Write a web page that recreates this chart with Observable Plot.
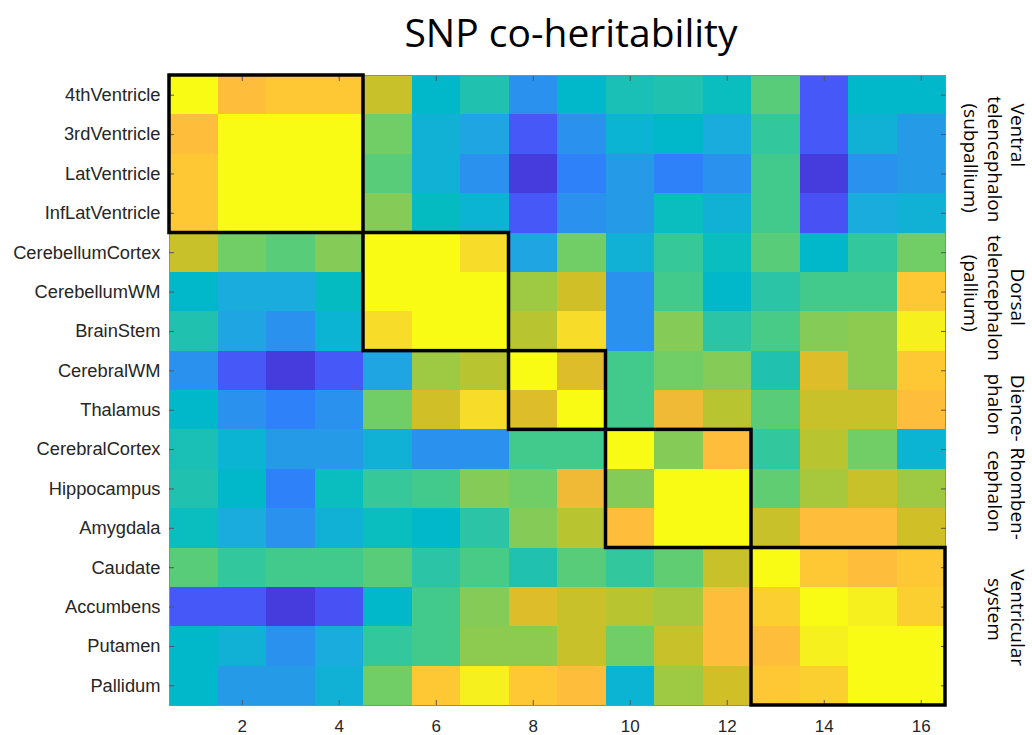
<!DOCTYPE html>
<html>
<head>
<meta charset="utf-8">
<script src="https://cdn.jsdelivr.net/npm/d3@7"></script>
<script src="https://cdn.jsdelivr.net/npm/@observablehq/plot@0.6"></script>
<style>
  body { margin: 0; background: #fff; width: 1032px; height: 735px; overflow: hidden; }
  #title { box-sizing: border-box; width: 1032px; height: 60px; padding-left: 110px; padding-top: 2px;
           text-align: center; font-family: "Open Sans", sans-serif; font-size: 39px; line-height: 60px; color: #000; }
</style>
</head>
<body>
<div id="title">SNP co-heritability</div>
<div id="chart"></div>
<script>
// Row / column names (same order on both axes)
const regions = ["4thVentricle","3rdVentricle","LatVentricle","InfLatVentricle","CerebellumCortex",
  "CerebellumWM","BrainStem","CerebralWM","Thalamus","CerebralCortex","Hippocampus","Amygdala",
  "Caudate","Accumbens","Putamen","Pallidum"];
const xTicks = [2, 4, 6, 8, 10, 12, 14, 16];

const row_4thVentricle     = [1.00,0.84,0.87,0.87,0.75,0.46,0.52,0.32,0.46,0.51,0.52,0.49,0.62,0.16,0.46,0.46];
const row_3rdVentricle     = [0.84,1.00,1.00,1.00,0.65,0.43,0.38,0.16,0.32,0.44,0.46,0.41,0.56,0.16,0.43,0.35];
const row_LatVentricle     = [0.87,1.00,1.00,1.00,0.62,0.43,0.32,0.08,0.27,0.35,0.27,0.32,0.59,0.08,0.32,0.35];
const row_InfLatVentricle  = [0.87,1.00,1.00,1.00,0.67,0.48,0.44,0.16,0.32,0.35,0.49,0.43,0.59,0.14,0.41,0.43];
const row_CerebellumCortex = [0.75,0.65,0.62,0.67,1.00,1.00,0.92,0.38,0.65,0.43,0.57,0.49,0.62,0.46,0.56,0.65];
const row_CerebellumWM     = [0.46,0.41,0.41,0.48,1.00,1.00,1.00,0.70,0.76,0.32,0.59,0.46,0.54,0.59,0.59,0.87];
const row_BrainStem        = [0.52,0.38,0.32,0.44,0.92,1.00,1.00,0.73,0.92,0.32,0.67,0.54,0.60,0.67,0.68,0.97];
const row_CerebralWM       = [0.32,0.16,0.08,0.16,0.38,0.70,0.73,1.00,0.78,0.59,0.65,0.67,0.52,0.78,0.68,0.87];
const row_Thalamus         = [0.46,0.32,0.27,0.32,0.65,0.76,0.92,0.78,1.00,0.59,0.81,0.73,0.62,0.75,0.75,0.84];
const row_CerebralCortex   = [0.51,0.44,0.35,0.35,0.43,0.32,0.32,0.59,0.59,1.00,0.67,0.84,0.56,0.73,0.65,0.44];
const row_Hippocampus      = [0.52,0.46,0.27,0.49,0.57,0.59,0.67,0.65,0.81,0.67,1.00,1.00,0.63,0.71,0.75,0.70];
const row_Amygdala         = [0.49,0.41,0.32,0.43,0.49,0.46,0.54,0.67,0.73,0.84,1.00,1.00,0.75,0.84,0.84,0.76];
const row_Caudate          = [0.62,0.56,0.59,0.59,0.62,0.54,0.60,0.52,0.62,0.56,0.63,0.75,1.00,0.87,0.84,0.87];
const row_Accumbens        = [0.16,0.16,0.08,0.14,0.46,0.59,0.67,0.78,0.75,0.73,0.71,0.84,0.89,1.00,0.97,0.89];
const row_Putamen          = [0.46,0.43,0.32,0.41,0.56,0.59,0.68,0.68,0.75,0.65,0.75,0.84,0.84,0.97,1.00,1.00];
const row_Pallidum         = [0.46,0.35,0.35,0.43,0.65,0.87,0.97,0.87,0.84,0.44,0.70,0.76,0.87,0.89,1.00,1.00];

// Diagonal blocks (first and last region index, 1-based)
const blockStart = [1, 5, 8, 10, 13];
const blockEnd   = [4, 7, 9, 12, 16];

// Right-hand group labels: text, line number, row position
const groupText = ["Ventral","telencephalon","(subpallium)",
                   "Dorsal","telencephalon","(pallium)",
                   "Dience-","phalon",
                   "Rhomben-","cephalon",
                   "Ventricular","system"];
const groupLine = [0,1,2, 0,1,2, 0,1, 0,1, 0,1];
const groupRow  = [2.02,2.63,2.6, 6.13,6.15,6.03, 8.95,8.85, 11.12,11.06, 14.27,14.06];

// MATLAB parula colormap (64 entries)
const parula = [
[0.2422,0.1504,0.6603],[0.2504,0.1650,0.7076],[0.2578,0.1818,0.7511],[0.2647,0.1978,0.7952],
[0.2706,0.2147,0.8364],[0.2751,0.2342,0.8710],[0.2783,0.2559,0.8991],[0.2803,0.2782,0.9221],
[0.2813,0.3006,0.9414],[0.2810,0.3228,0.9579],[0.2795,0.3447,0.9717],[0.2760,0.3667,0.9829],
[0.2699,0.3892,0.9906],[0.2602,0.4123,0.9952],[0.2440,0.4358,0.9988],[0.2206,0.4603,0.9973],
[0.1963,0.4847,0.9892],[0.1834,0.5074,0.9798],[0.1786,0.5289,0.9682],[0.1764,0.5499,0.9520],
[0.1687,0.5703,0.9359],[0.1540,0.5902,0.9218],[0.1460,0.6091,0.9079],[0.1380,0.6276,0.8973],
[0.1248,0.6459,0.8883],[0.1113,0.6635,0.8763],[0.0952,0.6798,0.8598],[0.0689,0.6948,0.8394],
[0.0297,0.7082,0.8163],[0.0036,0.7203,0.7917],[0.0067,0.7312,0.7660],[0.0433,0.7411,0.7394],
[0.0964,0.7500,0.7120],[0.1408,0.7584,0.6842],[0.1717,0.7670,0.6554],[0.1938,0.7758,0.6251],
[0.2161,0.7843,0.5923],[0.2470,0.7918,0.5567],[0.2906,0.7973,0.5188],[0.3406,0.8008,0.4789],
[0.3909,0.8029,0.4354],[0.4456,0.8024,0.3909],[0.5044,0.7993,0.3480],[0.5616,0.7942,0.3045],
[0.6174,0.7876,0.2612],[0.6720,0.7793,0.2227],[0.7242,0.7698,0.1910],[0.7738,0.7598,0.1646],
[0.8203,0.7498,0.1535],[0.8634,0.7406,0.1596],[0.9035,0.7330,0.1774],[0.9393,0.7288,0.2100],
[0.9728,0.7298,0.2394],[0.9956,0.7434,0.2371],[0.9970,0.7659,0.2199],[0.9952,0.7893,0.2028],
[0.9892,0.8136,0.1885],[0.9786,0.8386,0.1766],[0.9676,0.8639,0.1643],[0.9610,0.8890,0.1537],
[0.9597,0.9135,0.1423],[0.9628,0.9373,0.1265],[0.9691,0.9606,0.1064],[0.9769,0.9839,0.0805]
].map(([r,g,b]) => d3.rgb(r*255, g*255, b*255).formatHex());
const parulaInterp = d3.piecewise(d3.interpolateRgb, parula);

const matrix = [row_4thVentricle,row_3rdVentricle,row_LatVentricle,row_InfLatVentricle,
  row_CerebellumCortex,row_CerebellumWM,row_BrainStem,row_CerebralWM,row_Thalamus,
  row_CerebralCortex,row_Hippocampus,row_Amygdala,row_Caudate,row_Accumbens,row_Putamen,row_Pallidum];
const cells = matrix.flatMap((vals, i) => vals.map((v, j) => ({row: i + 1, col: j + 1, value: v})));
const blocks = blockStart.map((s, i) => ({start: s, end: blockEnd[i]}));
const groupLines = groupText.map((t, i) => ({label: t, line: groupLine[i], row: groupRow[i]}));
const rowTicks = regions.map((_, i) => i + 1);
const lineDx = [72, 49, 25];

const chart = Plot.plot({
  width: 1032,
  height: 675,
  marginTop: 15,
  marginBottom: 30,
  marginLeft: 169,
  marginRight: 87,
  style: {fontFamily: "'Liberation Sans', Arial, sans-serif", fontSize: "17px", color: "#262626", background: "#fff"},
  x: {domain: [0.5, 16.5]},
  y: {domain: [0.5, 16.5], reverse: true},
  color: {type: "linear", domain: [0, 1], interpolate: () => parulaInterp},
  marks: [
    Plot.rect(cells, {
      x1: d => d.col - 0.5, x2: d => d.col + 0.5,
      y1: d => d.row - 0.5, y2: d => d.row + 0.5,
      fill: "value", shapeRendering: "crispEdges"
    }),
    Plot.frame({stroke: "#8c8c8c", strokeWidth: 1}),
    Plot.axisX({ticks: xTicks, tickSize: -5, tickPadding: 19, color: "#262626", stroke: "#555", fontSize: 17, label: null}),
    Plot.axisX({anchor: "top", ticks: xTicks, tickSize: -5, tickFormat: () => "", stroke: "#555", label: null}),
    Plot.axisY({ticks: rowTicks, tickFormat: i => regions[i - 1], tickSize: -5, tickPadding: 14,
                color: "#262626", stroke: "#555", fontSize: 18.3, label: null}),
    Plot.axisY({anchor: "right", ticks: rowTicks, tickSize: -5, tickFormat: () => "", stroke: "#555", label: null}),
    Plot.rect(blocks, {
      x1: d => d.start - 0.5, x2: d => d.end + 0.5,
      y1: d => d.start - 0.5, y2: d => d.end + 0.5,
      fill: "none", stroke: "black", strokeWidth: 3.5
    }),
    ...[0, 1, 2].map(k => Plot.text(groupLines.filter(d => d.line === k), {
      y: "row", text: "label", frameAnchor: "right", dx: lineDx[k], rotate: 90,
      fontFamily: "'Open Sans', sans-serif", fontSize: 19, fill: "black",
      textAnchor: "middle", lineAnchor: "middle"
    }))
  ]
});
document.getElementById("chart").appendChild(chart);
</script>
</body>
</html>
